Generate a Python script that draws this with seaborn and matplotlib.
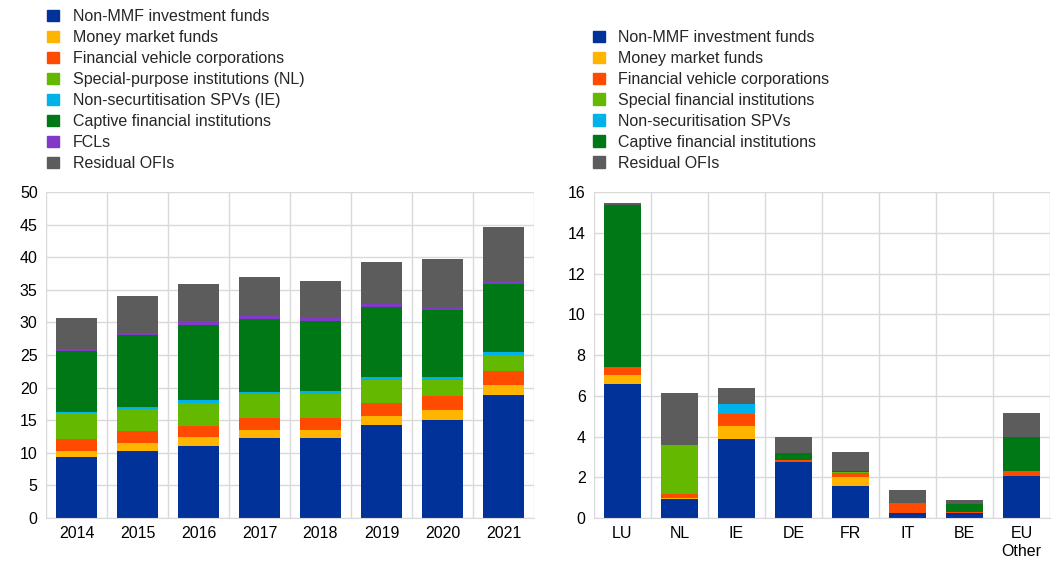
import matplotlib
matplotlib.use("Agg")
import matplotlib.pyplot as plt
import matplotlib.patches as mpatches
import seaborn as sns
import numpy as np

# left panel: euro area OFI sector by year (EUR trillions)
years = ["2014", "2015", "2016", "2017", "2018", "2019", "2020", "2021"]
left_labels = ["Non-MMF investment funds", "Money market funds",
               "Financial vehicle corporations", "Special-purpose institutions (NL)",
               "Non-securtitisation SPVs (IE)", "Captive financial institutions",
               "FCLs", "Residual OFIs"]
non_mmf = [9.3, 10.35, 11.1, 12.3, 12.25, 14.3, 15.1, 18.85]
mmf = [1.05, 1.15, 1.25, 1.2, 1.2, 1.3, 1.5, 1.5]
fvc = [1.8, 1.8, 1.75, 1.8, 1.95, 2.05, 2.1, 2.2]
spi_nl = [3.95, 3.35, 3.55, 3.75, 3.7, 3.55, 2.5, 2.4]
spv_ie = [0.1, 0.35, 0.4, 0.35, 0.35, 0.45, 0.45, 0.45]
captive = [9.35, 11.0, 11.6, 11.15, 10.7, 10.65, 10.2, 10.45]
fcls = [0.45, 0.4, 0.5, 0.45, 0.5, 0.6, 0.5, 0.55]
residual = [4.7, 5.7, 5.8, 5.9, 5.75, 6.3, 7.35, 8.2]
left_series = [non_mmf, mmf, fvc, spi_nl, spv_ie, captive, fcls, residual]

# right panel: by country
countries = ["LU", "NL", "IE", "DE", "FR", "IT", "BE", "EU\nOther"]
right_labels = ["Non-MMF investment funds", "Money market funds",
                "Financial vehicle corporations", "Special financial institutions",
                "Non-securitisation SPVs", "Captive financial institutions",
                "Residual OFIs"]
c_non_mmf = [6.59, 0.95, 3.9, 2.77, 1.59, 0.26, 0.23, 2.08]
c_mmf = [0.44, 0.03, 0.64, 0.0, 0.41, 0.0, 0.03, 0.0]
c_fvc = [0.4, 0.2, 0.59, 0.08, 0.23, 0.49, 0.04, 0.23]
c_sfi = [0.0, 2.39, 0.0, 0.0, 0.03, 0.0, 0.0, 0.0]
c_spv = [0.0, 0.0, 0.47, 0.0, 0.0, 0.0, 0.0, 0.0]
c_captive = [7.93, 0.0, 0.0, 0.33, 0.04, 0.0, 0.4, 1.67]
c_residual = [0.12, 2.59, 0.79, 0.8, 0.93, 0.63, 0.2, 1.17]
right_series = [c_non_mmf, c_mmf, c_fvc, c_sfi, c_spv, c_captive, c_residual]

left_colors = ["#003299", "#FFB400", "#FF4B00", "#65B800",
               "#00B1EA", "#007816", "#8139C7", "#5C5C5C"]
right_colors = ["#003299", "#FFB400", "#FF4B00", "#65B800",
                "#00B1EA", "#007816", "#5C5C5C"]

sns.set_style("white")
plt.rcParams["font.family"] = ["Liberation Sans", "DejaVu Sans"]
plt.rcParams["font.size"] = 11.5


def stacked(ax, cats, series, colors, ymax, ystep):
    bottom = np.zeros(len(cats))
    for vals, col in zip(series, colors):
        sns.barplot(x=cats, y=vals, bottom=bottom, color=col, width=0.66,
                    errorbar=None, ax=ax, linewidth=0, saturation=1)
        bottom = bottom + np.array(vals)
    ax.set_ylim(0, ymax)
    ax.set_xlim(-0.5, len(cats) - 0.5)
    ax.set_yticks(np.arange(0, ymax + 0.01, ystep))
    ax.set_xticks(np.arange(-0.5, len(cats), 1), minor=True)
    ax.grid(axis="y", which="major", color="#d9d9d9", linewidth=1)
    ax.grid(axis="x", which="minor", color="#d9d9d9", linewidth=1)
    ax.set_axisbelow(True)
    for s in ["top", "right", "left"]:
        ax.spines[s].set_visible(False)
    ax.spines["bottom"].set_color("#d9d9d9")
    ax.tick_params(axis="both", which="both", length=0, labelsize=11.5,
                   colors="#000000", pad=6)
    ax.set_xlabel("")
    ax.set_ylabel("")


fig = plt.figure(figsize=(10.53, 5.65), dpi=100)
ax1 = fig.add_axes([0.0437, 0.0832, 0.4634, 0.5768])
ax2 = fig.add_axes([0.5641, 0.0832, 0.4330, 0.5768])

stacked(ax1, years, left_series, left_colors, 50, 5)
stacked(ax2, countries, right_series, right_colors, 16, 2)


def make_legend(labels, colors, x, y):
    handles = [mpatches.Patch(color=c, label=l) for l, c in zip(labels, colors)]
    fig.legend(handles=handles, loc="upper left", bbox_to_anchor=(x, y),
               frameon=False, fontsize=11.5, handlelength=0.75, handleheight=0.75,
               handletextpad=0.85, labelspacing=0.375, borderaxespad=0,
               borderpad=0)


make_legend(left_labels, left_colors, 0.045, 0.984)
make_legend(right_labels, right_colors, 0.563, 0.947)

fig.savefig("out.png", dpi=100)
